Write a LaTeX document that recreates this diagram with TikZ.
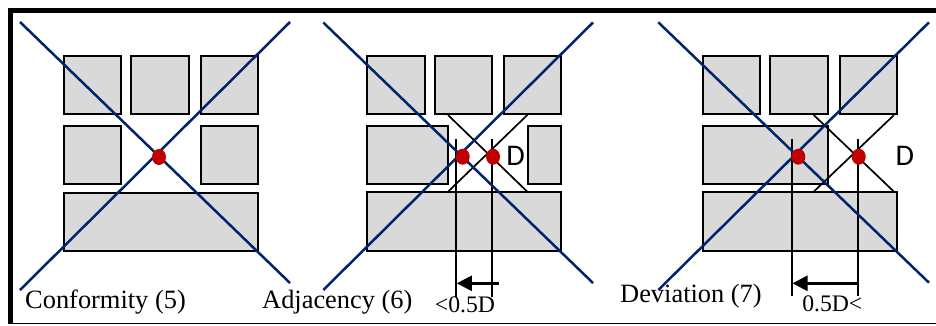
\documentclass[tikz,border=0pt]{standalone}
\usepackage{fontspec}
\setmainfont{Liberation Serif}
\newfontfamily\dfont{Carlito}
\usetikzlibrary{arrows.meta}
\definecolor{boxgray}{HTML}{D9D9D9}
\definecolor{crossblue}{HTML}{00246B}
\definecolor{dotred}{HTML}{C00000}
\tikzset{
  cell/.style={draw=black,line width=2pt,fill=boxgray},
  diag/.style={draw=crossblue,line width=2.5pt},
  gapx/.style={draw=black,line width=1.7pt},
  guide/.style={draw=black,line width=1.9pt},
  reddot/.style={fill=dotred,draw=none},
  dimarrow/.style={draw=black,line width=2.5pt,-{Triangle[length=15pt,width=15pt]}},
  caption/.style={anchor=base west,inner sep=0pt,font=\fontsize{26.4}{28}\selectfont},
  dimlabel/.style={anchor=base,inner sep=0pt,font=\fontsize{23.7}{26}\selectfont},
  gapletter/.style={inner sep=0pt,font=\dfont\fontsize{30}{32}\selectfont}
}
\begin{document}
\begin{tikzpicture}[x=1pt,y=-1pt]
\useasboundingbox (0,0) rectangle (936,325);
\fill[white] (0,0) rectangle (936,325);
% frame
\fill[black] (7.8,8) rectangle (936,13);
\fill[black] (7.8,8) rectangle (12.8,323.5);
\fill[black] (7.8,322.6) rectangle (936,323.8);
% panel 1
\draw[cell] (63.5,56) rectangle (121,114);
\draw[cell] (131,56) rectangle (188.5,114);
\draw[cell] (200.5,56) rectangle (258,114);
\draw[cell] (63.5,126) rectangle (121,184);
\draw[cell] (200.5,126) rectangle (258,184);
\draw[cell] (63.5,192.5) rectangle (258,250.5);
\draw[diag] (20,22) -- (290,283);
\draw[diag] (290,22) -- (20,290);
\fill[reddot] (159,157) ellipse [x radius=7,y radius=8];
\node[caption] (capA) at (25,308) {Conformity (5)};
% panel 2
\draw[cell] (367,56) rectangle (424.7,114);
\draw[cell] (434.7,56) rectangle (492,114);
\draw[cell] (504.3,56) rectangle (561.3,114);
\draw[cell] (367,126) rectangle (448,184.3);
\draw[cell] (527.7,126) rectangle (561.3,184.3);
\draw[cell] (367,192.3) rectangle (561.3,250.5);
\draw[gapx] (448,115) -- (527.3,191.7);
\draw[gapx] (527.3,115) -- (448,191.7);
\draw[guide] (456.3,139.3) -- (456.3,296.7);
\draw[guide] (492,139.3) -- (492,296.7);
\draw[diag] (323.3,22.5) -- (593,283);
\draw[diag] (593,22.5) -- (323.3,290);
\fill[reddot] (462.7,156.7) ellipse [x radius=7,y radius=8];
\fill[reddot] (493,156.7) ellipse [x radius=7,y radius=8];
\node[gapletter] (dA) at (515.7,156) {D};
\draw[dimarrow] (499,283.3) -- (456.8,283.3);
\node[dimlabel] (lblA) at (465,312) {<0.5D};
\node[caption] (capB) at (262,308) {Adjacency (6)};
% panel 3
\draw[cell] (702.7,56) rectangle (760,114);
\draw[cell] (770,56) rectangle (827.7,114);
\draw[cell] (840,56) rectangle (896.7,114);
\draw[cell] (702.7,126) rectangle (827.7,184.3);
\draw[cell] (702.7,192.3) rectangle (896.7,250.5);
\draw[gapx] (813.7,115) -- (894,191.7);
\draw[gapx] (894,115) -- (813.7,191.7);
\draw[guide] (792,139.3) -- (792,296);
\draw[guide] (857.7,139.3) -- (857.7,296);
\draw[diag] (658.3,22.3) -- (929,282.7);
\draw[diag] (929,22.3) -- (658.3,290);
\fill[reddot] (798.3,156.7) ellipse [x radius=7,y radius=8];
\fill[reddot] (858.7,156.7) ellipse [x radius=7,y radius=8];
\node[gapletter] (dB) at (904.8,156) {D};
\draw[dimarrow] (857.7,283.3) -- (792.5,283.3);
\node[dimlabel] (lblB) at (832.3,311) {0.5D<};
\node[caption] (capC) at (620,302) {Deviation (7)};
\end{tikzpicture}
\end{document}
